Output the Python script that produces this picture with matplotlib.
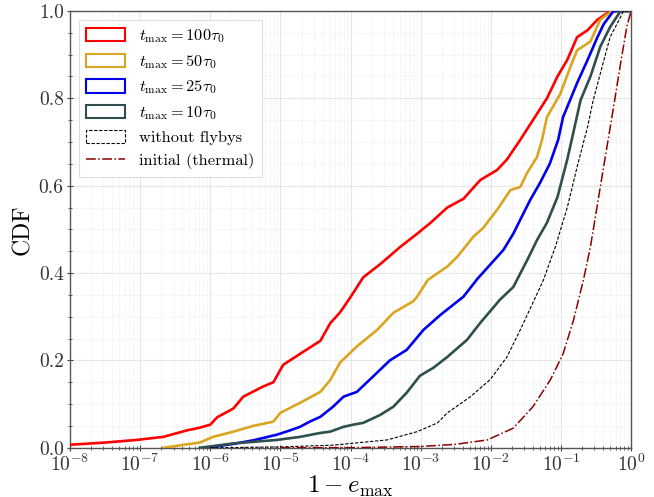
import numpy as np
import matplotlib
matplotlib.use("Agg")
import matplotlib.pyplot as plt
from matplotlib.patches import Patch
from matplotlib.lines import Line2D

plt.rcParams['font.family'] = ['serif']
plt.rcParams['font.serif'] = ['cmr10', 'DejaVu Serif']
plt.rcParams['mathtext.fontset'] = 'cm'
plt.rcParams['axes.unicode_minus'] = False
plt.rcParams['axes.formatter.use_mathtext'] = True

# log10(1 - e_max) and CDF values
red_lx = [-8.0, -7.5, -7.05, -6.67, -6.33, -6.15, -6.0, -5.9, -5.67, -5.53, -5.25, -5.1, -4.96,
          -4.72, -4.43, -4.29, -4.15, -4.0, -3.82, -3.58, -3.29, -3.05, -2.86, -2.62, -2.39,
          -2.15, -1.91, -1.77, -1.58, -1.40, -1.20, -1.05, -0.91, -0.77, -0.62, -0.48, -0.34, -0.2, 0.0]
red_cdf = [0.007, 0.012, 0.018, 0.025, 0.04, 0.046, 0.053, 0.07, 0.09, 0.117, 0.14, 0.15, 0.19,
           0.215, 0.245, 0.285, 0.31, 0.345, 0.39, 0.42, 0.46, 0.49, 0.515, 0.55, 0.57,
           0.613, 0.636, 0.66, 0.705, 0.75, 0.80, 0.85, 0.888, 0.94, 0.956, 0.98, 0.995, 1.0, 1.0]

yel_lx = [-6.67, -6.33, -6.15, -5.96, -5.67, -5.39, -5.1, -5.0, -4.72, -4.43, -4.29, -4.15, -3.91,
          -3.62, -3.39, -3.11, -3.05, -2.9, -2.62, -2.48, -2.25, -2.11, -1.91, -1.72, -1.58,
          -1.48, -1.34, -1.27, -1.2, -1.01, -0.87, -0.77, -0.58, -0.44, -0.27, 0.0]
yel_cdf = [0.0, 0.008, 0.012, 0.025, 0.037, 0.05, 0.06, 0.08, 0.103, 0.128, 0.155, 0.195, 0.232,
           0.27, 0.309, 0.335, 0.346, 0.384, 0.415, 0.437, 0.483, 0.503, 0.545, 0.59, 0.597,
           0.63, 0.666, 0.705, 0.757, 0.81, 0.87, 0.91, 0.93, 0.98, 1.0, 1.0]

blu_lx = [-6.05, -5.67, -5.39, -5.05, -4.86, -4.72, -4.58, -4.43, -4.25, -4.1, -3.91, -3.68, -3.44,
          -3.2, -2.96, -2.72, -2.39, -2.19, -1.82, -1.68, -1.44, -1.30, -1.16, -1.04, -0.97,
          -0.77, -0.62, -0.48, -0.39, -0.25, 0.0]
blu_cdf = [0.0, 0.009, 0.017, 0.03, 0.04, 0.048, 0.06, 0.071, 0.094, 0.117, 0.128, 0.163, 0.2,
           0.224, 0.27, 0.304, 0.346, 0.387, 0.453, 0.49, 0.567, 0.606, 0.65, 0.705, 0.757,
           0.835, 0.888, 0.94, 0.97, 1.0, 1.0]

slt_lx = [-6.15, -5.67, -5.05, -4.72, -4.43, -4.29, -4.1, -3.96, -3.82, -3.58, -3.39, -3.2, -3.01,
          -2.82, -2.62, -2.34, -2.15, -1.87, -1.68, -1.48, -1.34, -1.2, -1.05, -0.91, -0.72,
          -0.58, -0.44, -0.30, -0.15, 0.0]
slt_cdf = [0.0, 0.01, 0.018, 0.025, 0.034, 0.037, 0.048, 0.053, 0.057, 0.075, 0.094, 0.126, 0.165,
           0.183, 0.208, 0.247, 0.286, 0.339, 0.368, 0.43, 0.476, 0.515, 0.574, 0.66, 0.796,
           0.85, 0.918, 0.963, 1.0, 1.0]

nof_lx = [-6.0, -5.0, -4.25, -3.48, -3.05, -2.76, -2.62, -2.29, -2.01, -1.77, -1.58, -1.40, -1.25,
          -1.08, -0.91, -0.77, -0.62, -0.54, -0.40, -0.30, -0.15, -0.11, 0.0]
nof_cdf = [0.0, 0.002, 0.006, 0.018, 0.037, 0.057, 0.08, 0.117, 0.156, 0.208, 0.27, 0.332, 0.384,
           0.46, 0.55, 0.643, 0.735, 0.796, 0.88, 0.94, 0.986, 1.0, 1.0]

thm_lx = [-5.0, -4.0, -3.0, -2.5, -2.05, -1.68, -1.40, -1.15, -0.97, -0.82, -0.68, -0.58, -0.40,
          -0.25, -0.15, -0.06, 0.0]
thm_cdf = [0.0, 0.0003, 0.003, 0.008, 0.018, 0.045, 0.094, 0.156, 0.215, 0.293, 0.384, 0.46, 0.635,
           0.78, 0.88, 0.965, 1.0]

labels = [r'$t_{\rm max} = 100\tau_0$', r'$t_{\rm max} = 50\tau_0$',
          r'$t_{\rm max} = 25\tau_0$', r'$t_{\rm max} = 10\tau_0$',
          'without flybys', 'initial (thermal)']
colors = ['#ff0000', '#daa520', '#0000ee', '#2f4f4f', 'black', '#8b0000']

fig = plt.figure(figsize=(6.54, 4.97), dpi=100)
ax = fig.add_axes([0.107, 0.099, 0.858, 0.879])

series = [(red_lx, red_cdf), (yel_lx, yel_cdf), (blu_lx, blu_cdf), (slt_lx, slt_cdf)]
for (lx, c), col in zip(series, colors[:4]):
    ax.plot(10.0 ** np.array(lx), c, color=col, lw=1.9, zorder=3)
ax.plot(10.0 ** np.array(nof_lx), nof_cdf, color='black', lw=0.8, ls=(0, (3, 1.5)), zorder=3)
ax.plot(10.0 ** np.array(thm_lx), thm_cdf, color=colors[5], lw=1.1, ls='-.', zorder=3)

ax.set_xscale('log')
ax.set_xlim(1e-8, 1)
ax.set_ylim(0, 1)
ax.set_yticks([0, 0.2, 0.4, 0.6, 0.8, 1.0])
ax.set_yticklabels(['0.0', '0.2', '0.4', '0.6', '0.8', '1.0'])
ax.yaxis.set_minor_locator(matplotlib.ticker.MultipleLocator(0.05))
ax.xaxis.set_minor_locator(matplotlib.ticker.LogLocator(base=10, subs=np.arange(2, 10), numticks=20))
ax.xaxis.set_minor_formatter(matplotlib.ticker.NullFormatter())

ax.grid(True, which='major', color='#e6e6e6', lw=0.8, zorder=0)
ax.grid(True, which='minor', color='#e6e6e6', lw=0.6, ls=':', zorder=0)
ax.set_axisbelow(True)

for s in ax.spines.values():
    s.set_color('#555555')
    s.set_linewidth(1.0)
ax.tick_params(which='major', direction='inout', length=5, width=0.8, color='#444444', labelsize=14,
               labelcolor='#333333', pad=2)
ax.tick_params(which='minor', direction='inout', length=3, width=0.6, color='#444444')

ax.set_xlabel(r'$1 - e_{\rm max}$', fontsize=18, labelpad=-1)
ax.set_ylabel('CDF', fontsize=17, labelpad=3)

handles = [Patch(facecolor='none', edgecolor=col, lw=1.5) for col in colors[:4]]
handles.append(Patch(facecolor='none', edgecolor='black', lw=0.8, ls=(0, (3, 1.5))))
handles.append(Line2D([], [], color=colors[5], lw=1.1, ls='-.'))
leg = ax.legend(handles, labels, loc='upper left', fontsize=11.8, fancybox=False,
                edgecolor='#dddddd', framealpha=1.0, handlelength=2.35, handleheight=0.86,
                labelspacing=0.48, borderpad=0.45, handletextpad=0.85,
                bbox_to_anchor=(0.0, 1.0), borderaxespad=0.55)
leg.get_frame().set_linewidth(0.8)

fig.savefig('out.png', dpi=100)
